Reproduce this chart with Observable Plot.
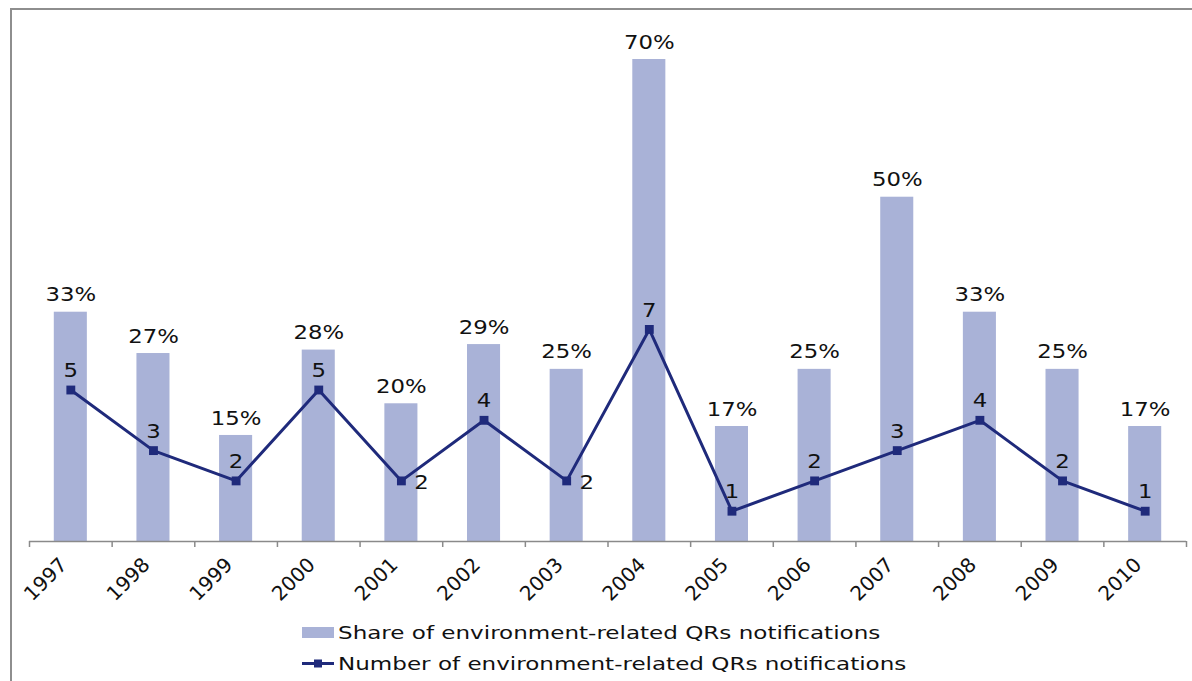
<!DOCTYPE html>
<html>
<head>
<meta charset="utf-8">
<script src="https://cdn.jsdelivr.net/npm/d3@7"></script>
<script src="https://cdn.jsdelivr.net/npm/@observablehq/plot@0.6"></script>
<style>
  html, body { margin: 0; padding: 0; background: #fff; }
  body { width: 1192px; height: 681px; position: relative; overflow: hidden; font-family: "DejaVu Sans", Verdana, sans-serif; }
  #frame { position: absolute; left: 10px; top: 8px; right: -10px; bottom: -10px; border-top: 2px solid #8e8e8e; border-left: 2px solid #8e8e8e; pointer-events: none; }
  #chart svg { display: block; }
  #legend { padding-left: 302px; padding-top: 2px; font-size: 18px; color: #111; }
  .row { display: flex; align-items: center; height: 31px; }
  .row span { display: inline-block; transform: scaleX(1.28); transform-origin: left center; white-space: nowrap; }
  .sw { width: 32px; height: 11px; margin-right: 4px; flex: none; }
</style>
</head>
<body>
<div id="chart"></div>
<div id="legend"></div>
<div id="frame"></div>
<script>
const years = ["1997","1998","1999","2000","2001","2002","2003","2004","2005","2006","2007","2008","2009","2010"];
const shares = [0.333, 0.273, 0.154, 0.278, 0.200, 0.286, 0.250, 0.700, 0.167, 0.250, 0.500, 0.333, 0.250, 0.167];
const counts = [5, 3, 2, 5, 2, 4, 2, 7, 1, 2, 3, 4, 2, 1];
const rightLabelYears = ["2001", "2003"];
const seriesNames = ["Share of environment-related QRs notifications", "Number of environment-related QRs notifications"];

const barColor = "#A9B2D7";
const lineColor = "#1F2A7B";

const W = 1192, H = 615, mL = 29, mR = 6, mT = 59, mB = H - 541;
const step = (W - mL - mR) / years.length;
// secondary axis: count units mapped onto share scale
const k = 0.044;

const data = years.map((y, i) => ({year: y, share: shares[i], count: counts[i], cy: counts[i] * k}));
const font = "DejaVu Sans, Verdana, sans-serif";

const chart = Plot.plot({
  width: W, height: H,
  marginLeft: mL, marginRight: mR, marginTop: mT, marginBottom: mB,
  style: {fontFamily: font, background: "transparent", overflow: "visible"},
  x: {type: "band", domain: years, padding: 0, round: false, axis: null},
  y: {domain: [0, 0.7], axis: null},
  marks: [
    Plot.barY(data, {x: "year", y: "share", fill: barColor, insetLeft: step * 0.3, insetRight: step * 0.3}),
    Plot.ruleY([0], {stroke: "#8a8a8a", strokeWidth: 1.5}),
    Plot.ruleX(years, {x: d => d, y1: 0, y2: 0, dx: -step / 2, insetBottom: -6, stroke: "#8a8a8a", strokeWidth: 1.5}),
    Plot.ruleX([years[years.length - 1]], {x: d => d, y1: 0, y2: 0, dx: step / 2, insetBottom: -6, stroke: "#8a8a8a", strokeWidth: 1.5}),
    Plot.axisX({tickSize: 0, tickRotate: -45, tickPadding: 20, dx: -7, label: null, fontSize: 20, fill: "#111", fontFamily: font}),
    Plot.line(data, {x: "year", y: "cy", stroke: lineColor, strokeWidth: 3}),
    Plot.dot(data, {x: "year", y: "cy", symbol: "square", fill: lineColor, r: 5}),
    Plot.text(data, {x: "year", y: "share", text: d => Math.round(d.share * 100) + "%", dy: -17, fontSize: 19, fill: "#111", className: "stretch"}),
    Plot.text(data.filter(d => !rightLabelYears.includes(d.year)), {x: "year", y: "cy", text: d => String(d.count), dy: -19, fontSize: 19, fill: "#111", className: "stretch"}),
    Plot.text(data.filter(d => rightLabelYears.includes(d.year)), {x: "year", y: "cy", text: d => String(d.count), dx: 20, dy: 2, fontSize: 19, fill: "#111", className: "stretch"})
  ]
});
// widen the value labels horizontally (the reference font is wide)
d3.select(chart).selectAll(".stretch text").each(function() {
  const t = this.getAttribute("transform");
  if (t) this.setAttribute("transform", t + " scale(1.2,1)");
  else {
    const x = +this.getAttribute("x") || 0, y = +this.getAttribute("y") || 0;
    this.removeAttribute("x"); this.removeAttribute("y");
    this.setAttribute("transform", `translate(${x},${y}) scale(1.2,1)`);
  }
});
document.getElementById("chart").appendChild(chart);

const legend = document.getElementById("legend");
legend.innerHTML = `
  <div class="row"><div class="sw" style="background:${barColor}"></div><span>${seriesNames[0]}</span></div>
  <div class="row"><svg class="sw" width="32" height="11" style="overflow:visible"><line x1="0" x2="32" y1="5.5" y2="5.5" stroke="${lineColor}" stroke-width="3"/><rect x="12" y="1.5" width="8" height="8" fill="${lineColor}"/></svg><span>${seriesNames[1]}</span></div>
`;
</script>
</body>
</html>
